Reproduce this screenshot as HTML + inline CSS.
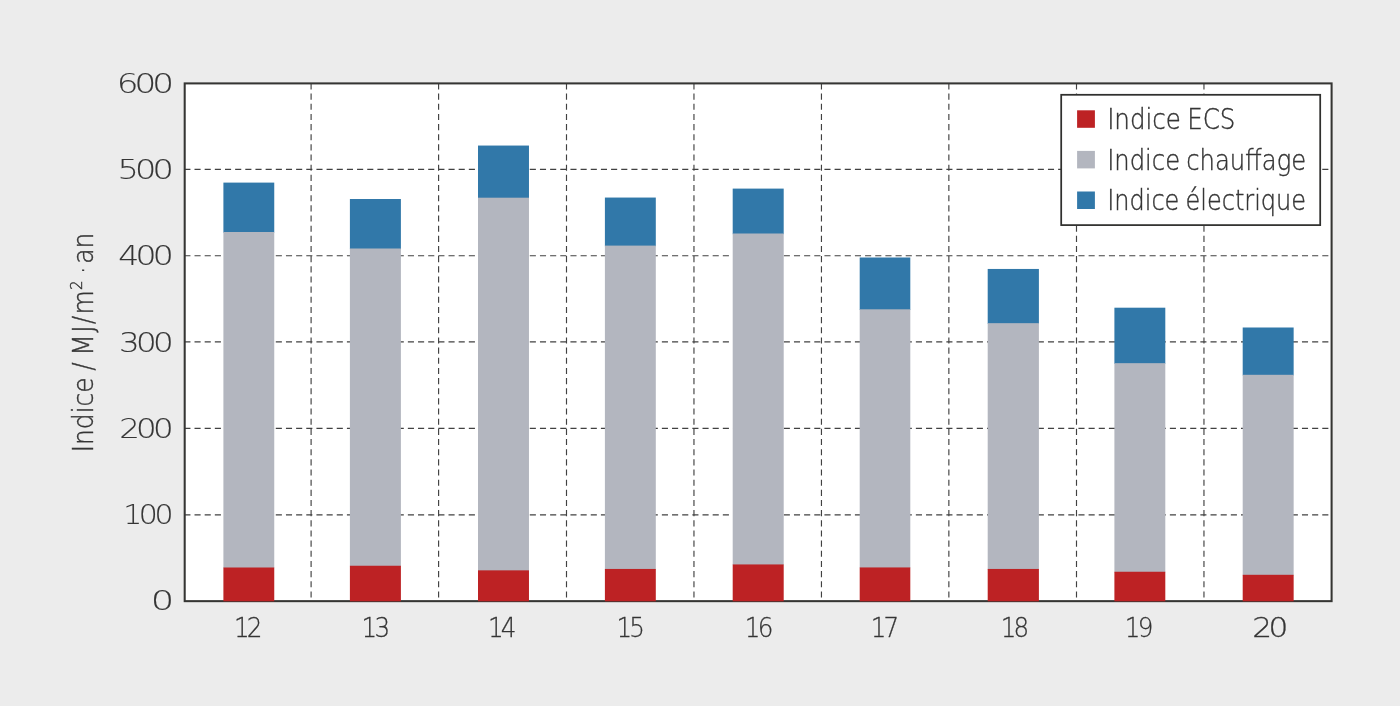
<!DOCTYPE html>
<html lang="fr"><head><meta charset="utf-8"><title>Indice</title>
<style>html,body{margin:0;padding:0;background:#ececec;overflow:hidden}svg{display:block}</style>
</head><body>
<svg width="1400" height="706" viewBox="0 0 1400 706" font-family='"DejaVu Sans Light","DejaVu Sans","Liberation Sans",sans-serif' font-weight="200">
<rect x="0" y="0" width="1400" height="706" fill="#ececec"/>
<rect x="184.7" y="83.4" width="1146.90" height="517.75" fill="#ffffff"/>
<g stroke="#414141" stroke-width="1.15" stroke-dasharray="6.1 4.06" fill="none"><line x1="184.35" y1="169.3" x2="1331.6" y2="169.3"/><line x1="184.35" y1="255.78" x2="1331.6" y2="255.78"/><line x1="184.35" y1="341.82" x2="1331.6" y2="341.82"/><line x1="184.35" y1="428.43" x2="1331.6" y2="428.43"/><line x1="184.35" y1="514.88" x2="1331.6" y2="514.88"/><line x1="311.10" y1="83.4" x2="311.10" y2="601.15"/><line x1="438.60" y1="83.4" x2="438.60" y2="601.15"/><line x1="566.50" y1="83.4" x2="566.50" y2="601.15"/><line x1="693.96" y1="83.4" x2="693.96" y2="601.15"/><line x1="821.45" y1="83.4" x2="821.45" y2="601.15"/><line x1="948.86" y1="83.4" x2="948.86" y2="601.15"/><line x1="1076.50" y1="83.4" x2="1076.50" y2="601.15"/><line x1="1203.96" y1="83.4" x2="1203.96" y2="601.15"/></g>
<rect x="184.7" y="83.4" width="1146.90" height="517.75" fill="none" stroke="#353533" stroke-width="2.05"/>
<rect x="223.40" y="182.60" width="50.85" height="50.10" fill="#3178a9"/>
<rect x="223.40" y="232.00" width="50.85" height="336.20" fill="#b3b6bf"/>
<rect x="223.40" y="567.50" width="50.85" height="33.80" fill="#bd2224"/>
<rect x="349.90" y="199.00" width="51.00" height="50.20" fill="#3178a9"/>
<rect x="349.90" y="248.50" width="51.00" height="317.95" fill="#b3b6bf"/>
<rect x="349.90" y="565.75" width="51.00" height="35.55" fill="#bd2224"/>
<rect x="478.00" y="145.55" width="50.97" height="52.85" fill="#3178a9"/>
<rect x="478.00" y="197.70" width="50.97" height="373.35" fill="#b3b6bf"/>
<rect x="478.00" y="570.35" width="50.97" height="30.95" fill="#bd2224"/>
<rect x="604.90" y="197.55" width="50.90" height="48.75" fill="#3178a9"/>
<rect x="604.90" y="245.60" width="50.90" height="324.05" fill="#b3b6bf"/>
<rect x="604.90" y="568.95" width="50.90" height="32.35" fill="#bd2224"/>
<rect x="732.70" y="188.60" width="51.00" height="45.60" fill="#3178a9"/>
<rect x="732.70" y="233.50" width="51.00" height="331.65" fill="#b3b6bf"/>
<rect x="732.70" y="564.45" width="51.00" height="36.85" fill="#bd2224"/>
<rect x="859.70" y="257.50" width="50.60" height="52.50" fill="#3178a9"/>
<rect x="859.70" y="309.30" width="50.60" height="258.85" fill="#b3b6bf"/>
<rect x="859.70" y="567.45" width="50.60" height="33.85" fill="#bd2224"/>
<rect x="987.70" y="268.95" width="51.20" height="54.95" fill="#3178a9"/>
<rect x="987.70" y="323.20" width="51.20" height="246.45" fill="#b3b6bf"/>
<rect x="987.70" y="568.95" width="51.20" height="32.35" fill="#bd2224"/>
<rect x="1114.40" y="307.70" width="50.90" height="56.20" fill="#3178a9"/>
<rect x="1114.40" y="363.20" width="50.90" height="209.25" fill="#b3b6bf"/>
<rect x="1114.40" y="571.75" width="50.90" height="29.55" fill="#bd2224"/>
<rect x="1242.70" y="327.50" width="50.95" height="48.00" fill="#3178a9"/>
<rect x="1242.70" y="374.80" width="50.95" height="200.70" fill="#b3b6bf"/>
<rect x="1242.70" y="574.80" width="50.95" height="26.50" fill="#bd2224"/>
<rect x="1061.2" y="94.8" width="259" height="130.3" fill="#ffffff" stroke="#30302e" stroke-width="1.75"/>
<rect x="1077.1" y="110.3" width="17.8" height="17.5" fill="#bd2224"/>
<rect x="1077.1" y="150.9" width="17.8" height="17.5" fill="#b3b6bf"/>
<rect x="1077.1" y="191.5" width="17.8" height="17.5" fill="#3178a9"/>
<g fill="#353535" stroke="#353535" stroke-width="0.4">
<text transform="translate(116.64 93.37) scale(1.2216 0.9750)" font-size="28" letter-spacing="-3.2" stroke-width="0.12" >600</text>
<text transform="translate(117.51 179.22) scale(1.1976 0.9750)" font-size="28" letter-spacing="-3.2" stroke-width="0.12" >500</text>
<text transform="translate(118.33 265.32) scale(1.1792 0.9750)" font-size="28" letter-spacing="-3.2" stroke-width="0.12" >400</text>
<text transform="translate(119.08 351.67) scale(1.1624 0.9750)" font-size="28" letter-spacing="-3.2" stroke-width="0.12" >300</text>
<text transform="translate(119.17 437.92) scale(1.1602 0.9750)" font-size="28" letter-spacing="-3.2" stroke-width="0.12" >200</text>
<text transform="translate(123.19 524.17) scale(1.0699 0.9750)" font-size="28" letter-spacing="-3.2" stroke-width="0.12" >100</text>
<text transform="translate(150.71 610.07) scale(1.3176 0.9750)" font-size="28" letter-spacing="-3.2" stroke-width="0.12" >0</text>
<text transform="translate(233.99 636.75) scale(0.8800 0.9750)" font-size="28" letter-spacing="-3.2" stroke-width="0.3" >12</text>
<text transform="translate(361.59 636.75) scale(0.8800 0.9750)" font-size="28" letter-spacing="-3.2" stroke-width="0.3" >13</text>
<text transform="translate(487.97 636.75) scale(0.8800 0.9750)" font-size="28" letter-spacing="-3.2" stroke-width="0.3" >14</text>
<text transform="translate(616.40 636.75) scale(0.8800 0.9750)" font-size="28" letter-spacing="-3.2" stroke-width="0.3" >15</text>
<text transform="translate(744.82 636.75) scale(0.8800 0.9750)" font-size="28" letter-spacing="-3.2" stroke-width="0.3" >16</text>
<text transform="translate(870.70 636.75) scale(0.8800 0.9750)" font-size="28" letter-spacing="-3.2" stroke-width="0.3" >17</text>
<text transform="translate(1000.73 636.75) scale(0.8800 0.9750)" font-size="28" letter-spacing="-3.2" stroke-width="0.3" >18</text>
<text transform="translate(1124.82 636.75) scale(0.8800 0.9750)" font-size="28" letter-spacing="-3.2" stroke-width="0.3" >19</text>
<text transform="translate(1252.35 636.75) scale(1.1115 0.9750)" font-size="28" letter-spacing="-3.2" stroke-width="0.3" >20</text>
<text transform="translate(1107.13 128.90) scale(0.8837 1.0000)" font-size="27.8" word-spacing="-1.8">Indice ECS</text>
<text transform="translate(1107.17 169.60) scale(0.8722 1.0000)" font-size="27.8" word-spacing="-1.8">Indice chauffage</text>
<text transform="translate(1107.19 210.30) scale(0.8644 1.0000)" font-size="27.8" word-spacing="-1.8">Indice électrique</text>
<text transform="translate(93.30 452.34) rotate(-90) scale(0.9046 1)" font-size="27.6">Indice<tspan letter-spacing="-1.5"> </tspan>/<tspan letter-spacing="-1.5"> </tspan><tspan letter-spacing="1.5">MJ/</tspan>m<tspan font-size="60%" dy="-11.2">2</tspan><tspan dy="11.2" letter-spacing="-1.7"> </tspan>·<tspan letter-spacing="-6"> </tspan>an</text>
</g>
</svg>
</body></html>
